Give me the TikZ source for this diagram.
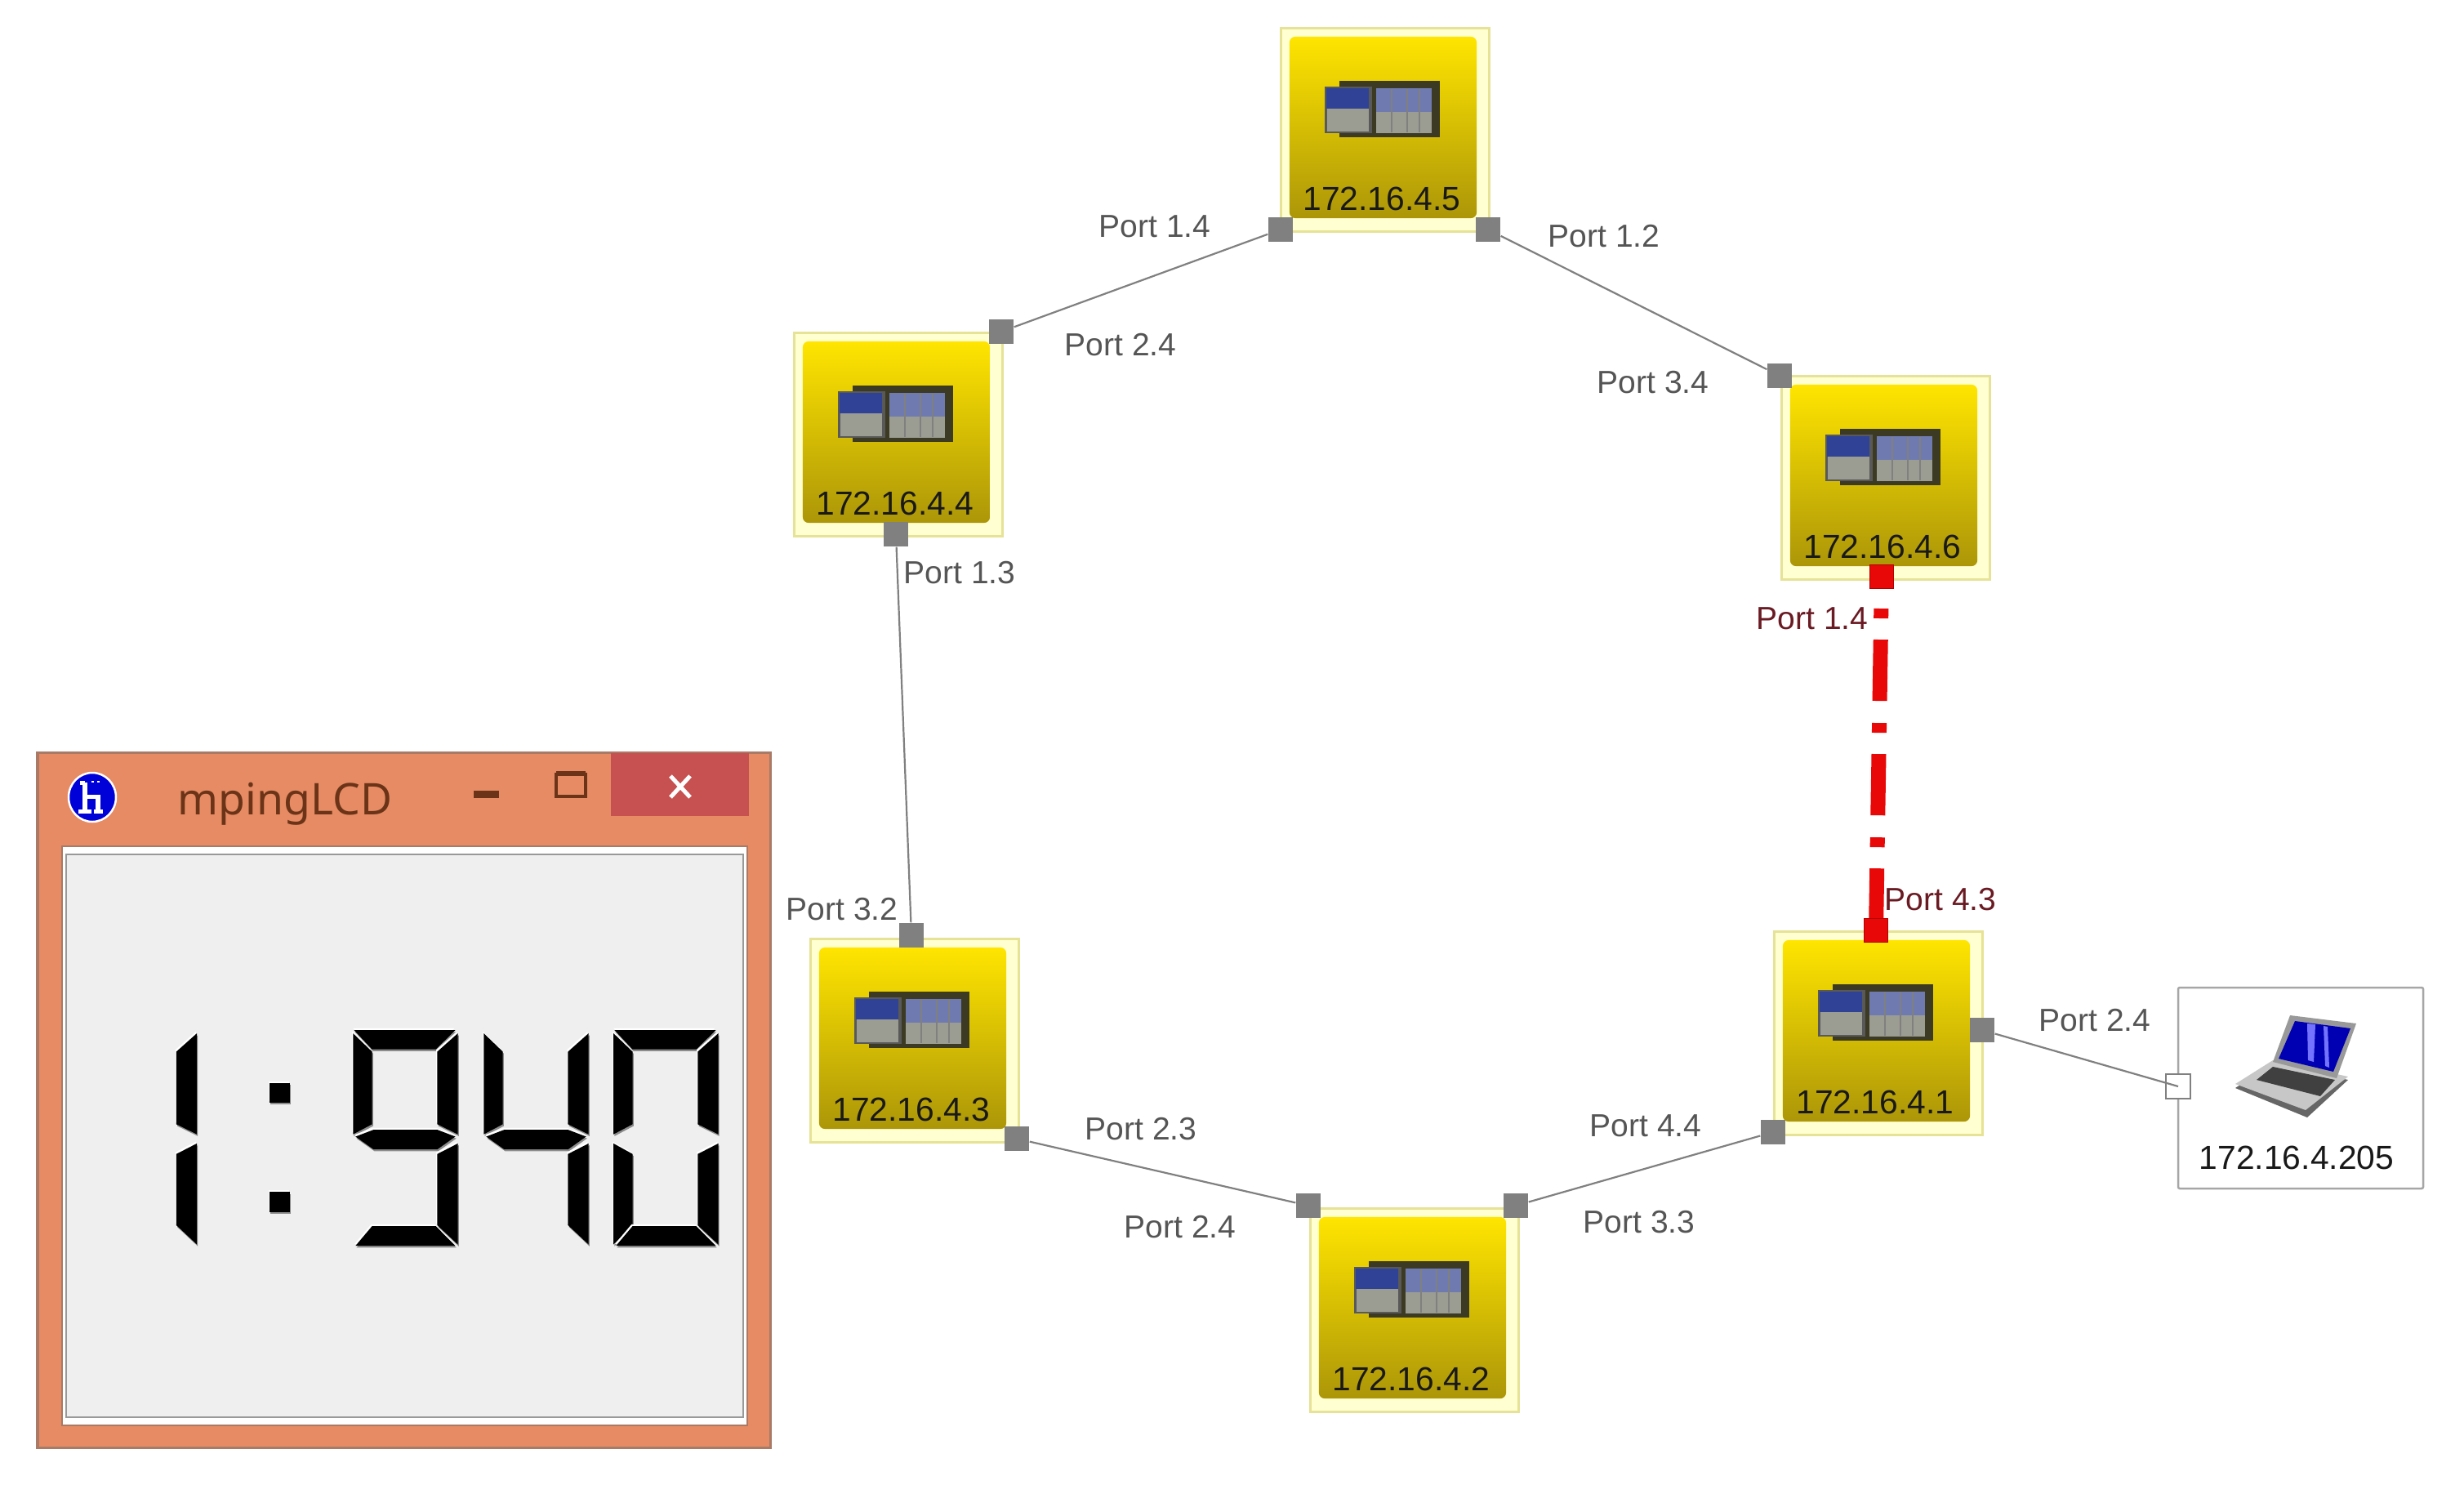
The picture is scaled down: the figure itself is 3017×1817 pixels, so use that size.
\documentclass[tikz,border=0pt]{standalone}
\usepackage{fontspec}
\setmainfont{Liberation Sans}
\newfontfamily\titlefont{Noto Sans}
\definecolor{plcglow}{HTML}{FFFFD2}
\definecolor{plcrim}{HTML}{E6E296}
\definecolor{plctop}{HTML}{FFE500}
\definecolor{plcmid}{HTML}{E8CF00}
\definecolor{plcbot}{HTML}{AC9608}
\definecolor{iconback}{HTML}{3C3A22}
\definecolor{iconblue}{HTML}{2F4296}
\definecolor{iconpale}{HTML}{6F7BB0}
\definecolor{icongray}{HTML}{9B9C92}
\definecolor{portgray}{HTML}{808080}
\definecolor{labelgray}{HTML}{555555}
\definecolor{labelred}{HTML}{6A1A22}
\definecolor{linkred}{HTML}{E80808}
\definecolor{winorange}{HTML}{E68B63}
\definecolor{winrim}{HTML}{A97A66}
\definecolor{winclose}{HTML}{C75050}
\definecolor{wintext}{HTML}{6B3418}
\definecolor{lcdback}{HTML}{EFEFEF}
\tikzset{
    plcframe/.style={draw=plcrim,line width=.03cm,fill=plcglow,minimum width=2.54cm,minimum height=2.49cm,inner sep=0},
    plcbody/.style={rounded corners=.07cm,top color=plctop,middle color=plcmid,bottom color=plcbot,minimum width=2.29cm,minimum height=2.22cm,inner sep=0},
    iplabel/.style={inner sep=0,font=\fontsize{11.6pt}{13pt}\selectfont,text=black!90},
    portlabel/.style={inner sep=0,font=\fontsize{11.1pt}{13pt}\selectfont,text=labelgray},
    redlabel/.style={portlabel,text=labelred},
    port/.style={fill=portgray,minimum size=.3cm,inner sep=0},
    redport/.style={fill=linkred,draw=red!70!black,line width=.015cm,minimum size=.29cm,inner sep=0},
    openport/.style={draw=portgray,fill=white,line width=.02cm,minimum size=.3cm,inner sep=0},
    link/.style={draw=portgray,line width=.022cm},
    redlink/.style={draw=linkred,line width=.18cm,dash pattern=on .75cm off .27cm on .12cm off .26cm,dash phase=.63cm},
    lcdseg/.style={fill=black},
    lcdedge/.style={fill=black!45},
    lcdglint/.style={fill=white},
    plcicon/.pic={
        \fill[iconback] (-56,-60)--(67,-60)--(67,9)--(-56,9)--cycle;
        \fill[black!65] (-74,-53) rectangle (-16,4);
        \fill[iconblue] (-72,-51) rectangle (-20,-26);
        \fill[icongray] (-71,-26) rectangle (-20,2);
        \fill[iconpale] (-11,-51) rectangle (57,-22);
        \fill[icongray] (-11,-22) rectangle (57,4);
        \foreach \x in {8,27,42}
            \draw[black!50,line width=.012cm] (\x,-50)--(\x,3);
    }
}
\newcommand{\plcnode}[3]{
    \node[plcframe] (#1) at (#2) {};
    \node[plcbody] (#1body) at ([shift={(-2.5,-3)}]#1.center) {};
    \pic at (#1) {plcicon};
    \node[iplabel] (#1ip) at ([shift={(-4,84)}]#1.center) {#3};
}
\newcommand{\lcdpart}[1]{\fill[lcdedge,shift={(2,4)}] #1--cycle; \fill[lcdglint,shift={(-2,-4)}] #1--cycle; \fill[lcdseg] #1--cycle;}
\newcommand{\segT}{\lcdpart{(5,625)--(212,625)--(172,667)--(42,667)}}
\newcommand{\segUL}{\lcdpart{(3,632)--(42,672)--(42,830)--(3,852)}}
\newcommand{\segUR}{\lcdpart{(217,632)--(217,852)--(175,830)--(175,672)}}
\newcommand{\segM}{\lcdpart{(8,857)--(45,842)--(175,842)--(212,857)--(175,885)--(45,885)}}
\newcommand{\segLL}{\lcdpart{(3,872)--(42,895)--(42,1050)--(3,1092)}}
\newcommand{\segLR}{\lcdpart{(217,872)--(217,1092)--(175,1050)--(175,895)}}
\newcommand{\segB}{\lcdpart{(8,1095)--(212,1095)--(172,1052)--(42,1052)}}
\newcommand{\lcddigit}[2]{\begin{scope}[shift={(#1,0)}]#2\end{scope}}
\begin{document}
\begin{tikzpicture}[x=.01cm,y=-.01cm]
\useasboundingbox (0,0) rectangle (3017,1817);

\plcnode{plcfive}{1696,159}{172.16.4.5}
\plcnode{plcfour}{1100,532}{172.16.4.4}
\plcnode{plcsix}{2309,585}{172.16.4.6}
\plcnode{plcthree}{1120,1274}{172.16.4.3}
\plcnode{plcone}{2300,1265}{172.16.4.1}
\plcnode{plctwo}{1732,1604}{172.16.4.2}

\draw[black!35,fill=white,line width=.025cm,rounded corners=.02cm] (2667,1209) rectangle (2967,1455);
\node[iplabel] (pcip) at (2812,1417) {172.16.4.205};
\fill[black!60] (2737,1332)--(2783,1302)--(2875,1322)--(2825,1368)--cycle;
\fill[black!22] (2737,1327)--(2783,1298)--(2875,1318)--(2823,1359)--cycle;
\fill[black!75] (2783,1306)--(2763,1322)--(2841,1342)--(2859,1322)--cycle;
\fill[black!40] (2804,1243)--(2885,1253)--(2861,1320)--(2783,1300)--cycle;
\fill[blue!70!black] (2810,1250)--(2878,1259)--(2857,1312)--(2790,1296)--cycle;
\fill[blue!55!white] (2825,1253)--(2835,1254)--(2833,1300)--(2826,1298)--cycle;
\fill[blue!55!white] (2845,1256)--(2850,1257)--(2852,1307)--(2847,1305)--cycle;

\node[port] (fiveL) at (1568,281) {};
\node[port] (fiveR) at (1822,281) {};
\node[port] (fourR) at (1226,406) {};
\node[port] (fourB) at (1097,654) {};
\node[port] (sixL) at (2179,460) {};
\node[redport] (sixB) at (2304,706) {};
\node[redport] (oneT) at (2297,1139) {};
\node[port] (oneR) at (2427,1261) {};
\node[port] (oneB) at (2171,1386) {};
\node[port] (twoL) at (1602,1476) {};
\node[port] (twoR) at (1856,1476) {};
\node[port] (threeT) at (1116,1145) {};
\node[port] (threeR) at (1245,1394) {};
\node[openport] (pcport) at (2667,1330) {};

\draw[link] (fiveL)--(fourR);
\draw[link] (fiveR)--(sixL);
\draw[link] (fourB)--(threeT);
\draw[link] (threeR)--(twoL);
\draw[link] (twoR)--(oneB);
\draw[link] (oneR)--(pcport.center);
\draw[redlink] (sixB.center)--(oneT.center);
\node[redport] (sixBtop) at (sixB) {};
\node[redport] (oneTtop) at (oneT) {};

\foreach \name/\pos/\txt in {a/{1414,277}/1.4,b/{1964,289}/1.2,c/{1372,422}/2.4,d/{2024,468}/3.4,
    e/{1175,701}/1.3,f/{1031,1113}/3.2,g/{2565,1249}/2.4,h/{1397,1382}/2.3,
    i/{2015,1378}/4.4,j/{2007,1496}/3.3,k/{1445,1502}/2.4}
{
    \node[portlabel] (lab\name) at (\pos) {Port \txt};
}
\node[redlabel] (labred) at (2219,757) {Port 1.4};
\node[redlabel] (labredb) at (2376,1101) {Port 4.3};

\draw[winrim,fill=winorange,line width=.03cm] (46,921) rectangle (943,1772);
\fill[winclose] (748,922) rectangle (917,999);
\draw[winrim,fill=white,line width=.02cm] (76,1036) rectangle (915,1745);
\draw[black!40,fill=lcdback,line width=.02cm] (81,1046) rectangle (910,1735);

\node[font=\titlefont\fontsize{15.2pt}{18pt}\selectfont,text=wintext,inner sep=0,anchor=base west] (wintitle) at (217,997) {mpingLCD};
\fill[wintext] (580,968) rectangle (611,977);
\draw[wintext,line width=.035cm] (681,948) rectangle (717,975);
\draw[wintext,line width=.06cm] (681,947)--(717,947);
\draw[white,line width=.05cm] (821,950)--(845,976) (845,950)--(821,976);
\draw[white,fill=blue!85!black,line width=.025cm] (113,976) ellipse (29 and 30);
\draw[white,line width=.05cm] (104,958)--(104,993) (96,993)--(112,993) (98,958)--(104,958) (104,975)--(120,975)--(120,993) (115,993)--(126,993);
\draw[white,line width=.02cm] (112,957)--(115,957) (119,957)--(122,957);

\begin{scope}[shift={(30,910)},xscale=.5995,yscale=.5618]
\lcddigit{135}{\segUR\segLR}
\lcddigit{668}{\segT\segUL\segUR\segM\segLR\segB}
\lcddigit{935}{\segUL\segUR\segM\segLR}
\lcddigit{1200}{\segT\segUL\segUR\segLL\segLR\segB}
\lcdpart{(500,740)--(542,740)--(542,783)--(500,783)}
\lcdpart{(500,978)--(542,978)--(542,1022)--(500,1022)}
\end{scope}
\end{tikzpicture}
\end{document}
